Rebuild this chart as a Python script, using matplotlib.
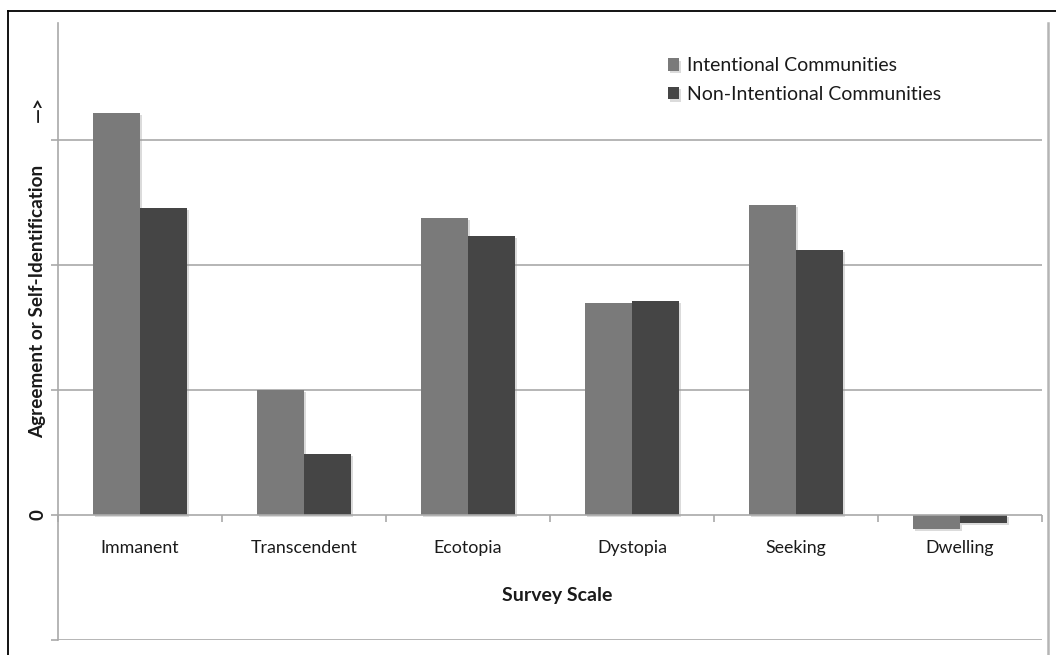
import matplotlib
matplotlib.use("Agg")
import matplotlib.pyplot as plt
import matplotlib.patheffects as pe
from matplotlib.lines import Line2D
import numpy as np

plt.rcParams["font.family"] = ["Lato", "DejaVu Sans"]

categories = ["Immanent", "Transcendent", "Ecotopia", "Dystopia", "Seeking", "Dwelling"]
intentional = [3.22, 1.0, 2.38, 1.70, 2.48, -0.11]
non_intentional = [2.46, 0.49, 2.23, 1.71, 2.12, -0.06]
series_names = ["Intentional Communities", "Non-Intentional Communities"]

W, H = 1056, 655
fig = plt.figure(figsize=(W / 100, H / 100), dpi=100)
ax = fig.add_axes([58 / W, (H - 640) / H, (1042 - 58) / W, (640 - 23) / H])

grid_c = "#a9a9a9"
c_ic = "#7a7a7a"
c_nic = "#454545"
txt_c = "#1a1a1a"

x = np.arange(len(categories)) + 0.5
bw = 47 / 164
shadow = [pe.SimplePatchShadow(offset=(1.5, -1.5), shadow_rgbFace="#999999", alpha=0.35), pe.Normal()]
b1 = ax.bar(x - bw / 2, intentional, bw, color=c_ic, zorder=3, label=series_names[0])
b2 = ax.bar(x + bw / 2, non_intentional, bw, color=c_nic, zorder=3, label=series_names[1])
for p in list(b1) + list(b2):
    p.set_path_effects(shadow)

ax.set_xlim(0, len(categories))
ax.set_ylim(-1, (515 - 23) / 125)

# gridlines
for g in [1, 2, 3, -1]:
    ax.axhline(g, color=grid_c, lw=1.2, zorder=1)
ax.axhline(0, color=grid_c, lw=1.2, zorder=4)

for s in ["top", "right"]:
    ax.spines[s].set_visible(False)
ax.spines["left"].set_color(grid_c)
ax.spines["left"].set_linewidth(1.2)
ax.spines["bottom"].set_position(("data", 0))
ax.spines["bottom"].set_visible(False)

ax.set_yticks([-1, 0, 1, 2, 3])
ax.set_yticklabels([])
ax.tick_params(axis="y", length=5, color=grid_c, width=1.2)

ax.set_xticks(np.arange(len(categories) + 1))
ax.set_xticklabels([])
ax.tick_params(axis="x", which="major", length=5, color=grid_c, width=1.2, direction="out")
ax.set_xticks(x, minor=True)
ax.set_xticklabels(categories, minor=True, fontsize=12.8, color=txt_c)
ax.tick_params(axis="x", which="minor", length=0, pad=18)

fig.text(38 / W, 1 - 515 / H, "0", rotation=90, ha="center", va="center",
         fontsize=13.5, fontweight="bold", color=txt_c)
fig.text(38 / W, 1 - 301 / H, "Agreement or Self-Identification", rotation=90,
         ha="center", va="center", fontsize=13.6, fontweight="bold", color=txt_c)
fig.text(38 / W, 1 - 109 / H, "—>", rotation=90, ha="center", va="center",
         fontsize=13.6, fontweight="bold", color=txt_c)
fig.text(557 / W, 1 - 596 / H, "Survey Scale", ha="center", va="center",
         fontsize=14, fontweight="bold", color=txt_c)

leg = fig.legend(handles=[b1, b2], loc="upper left", bbox_to_anchor=(650 / W, 1 - 40 / H),
                 frameon=False, fontsize=14, handlelength=0.6, handleheight=0.6,
                 handletextpad=0.4, labelspacing=0.6, labelcolor=txt_c)

# outer frame
fig.add_artist(Line2D([8 / W, 8 / W], [0, 1 - 11 / H], color="black", lw=1.3))
fig.add_artist(Line2D([8 / W, 1], [1 - 11 / H, 1 - 11 / H], color="black", lw=1.3))
fig.add_artist(Line2D([1048 / W, 1048 / W], [0, 1 - 23 / H], color="#b5b5b5", lw=1.8))

fig.savefig("out.png", dpi=100)
